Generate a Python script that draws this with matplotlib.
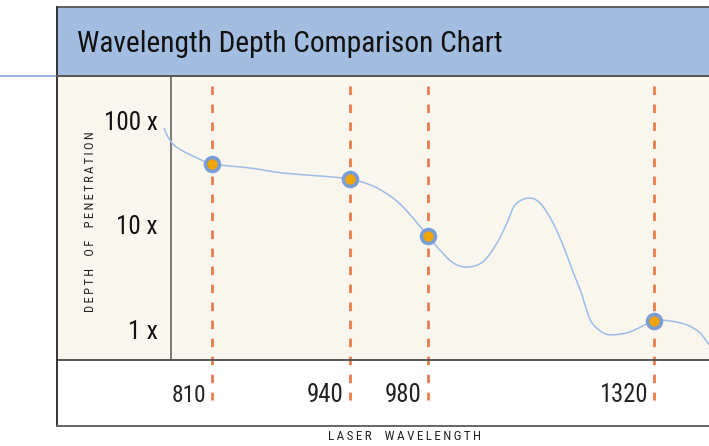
import matplotlib
matplotlib.use("Agg")
import numpy as np
import matplotlib.pyplot as plt
import matplotlib.transforms as mtransforms
from matplotlib import font_manager
from matplotlib.patches import Rectangle, PathPatch
from matplotlib.lines import Line2D
from matplotlib.path import Path

# pick a narrow face if one is installed
names = sorted({f.name for f in font_manager.fontManager.ttflist})
narrow = None
for cand in ['Liberation Sans Narrow', 'Roboto Condensed', 'Noto Sans Condensed',
             'Open Sans Condensed', 'DejaVu Sans Condensed']:
    if cand in names:
        narrow = cand
        break
if narrow is None:
    for n in names:
        if ('Condensed' in n or 'Narrow' in n) and 'Extra' not in n and 'Semi' not in n:
            narrow = n
            break
stretch = 'normal'
if narrow is None:
    narrow = 'DejaVu Sans'
    stretch = 'condensed'
plt.rcParams['font.family'] = [narrow, 'DejaVu Sans']

# curve: position along the axis (arbitrary units) and depth of penetration
curve_pos = [107, 111, 117, 126, 140, 156, 193, 226, 263, 293, 308, 320, 333, 343,
             356, 371, 383, 396, 410, 426, 440, 450, 458, 471, 483, 496, 508, 516,
             524, 529, 535, 546, 556, 573, 597, 613, 630, 643, 652]
curve_depth = [85.7, 70.3, 58.9, 51.6, 44.3, 38.8, 35.5, 31.8, 29.8, 27.9, 25.5, 22.9,
               19.2, 16.1, 11.8, 7.9, 5.8, 4.4, 4.0, 4.5, 6.8, 10.6, 15.7, 18.3, 16.4,
               10.6, 5.8, 3.6, 2.31, 1.62, 1.17, 0.94, 0.90, 0.96, 1.22, 1.22, 1.12,
               0.94, 0.72]

# highlighted wavelengths
wavelengths = ['810', '940', '980', '1320']
wl_pos = [155, 293, 371, 597]
wl_depth = [38.8, 27.9, 7.9, 1.22]

depth_ticks = [1, 10, 100]
depth_labels = ['1 x', '10 x', '100 x']

W, H = 709, 446
fig = plt.figure(figsize=(W / 100, H / 100), dpi=100)
fig.patch.set_facecolor('white')
renderer = fig.canvas.get_renderer()

def fx(px):
    return px / W

def fy(py):
    return 1 - py / H

def fit(t, target, vertical=False):
    # size a text to the extent it has in the reference
    bb = t.get_window_extent(renderer)
    w = bb.height if vertical else bb.width
    t.set_fontsize(t.get_fontsize() * target / w)

frame = '#555555'

# header band
fig.add_artist(Rectangle((fx(57), fy(76)), fx(709) - fx(57), fy(7) - fy(76),
                         transform=fig.transFigure, facecolor='#a3bde0', edgecolor='none'))
fig.add_artist(Line2D([fx(57), 1], [fy(7), fy(7)], transform=fig.transFigure, color=frame, lw=1.3))
fig.add_artist(Line2D([0, fx(57)], [fy(76), fy(76)], transform=fig.transFigure, color='#8aa6d8', lw=1.2))
title = fig.text(fx(77), fy(52), 'Wavelength Depth Comparison Chart', fontsize=23,
                 fontstretch=stretch, ha='left', va='baseline', color='#111111')
fit(title, 428)

# main plot area
ax = fig.add_axes([fx(57), fy(360), fx(709) - fx(57), fy(76) - fy(360)])
ax.set_facecolor('#f9f6ee')
ax.set_yscale('log')
ax.set_xlim(0, 652)
ax.set_ylim(10 ** -0.287, 10 ** 2.431)
ax.set_xticks([])
ax.set_yticks([])
ax.minorticks_off()
for s in ['top', 'right', 'left']:
    ax.spines[s].set_visible(False)
ax.spines['bottom'].set_color(frame)
ax.spines['bottom'].set_linewidth(1.4)
ax.axvline(114, color='#6f6f6f', lw=1.3)

# outer frame lines
fig.add_artist(Line2D([fx(57), fx(57)], [fy(7), fy(426)], transform=fig.transFigure, color='#333333', lw=1.4))
fig.add_artist(Line2D([fx(57), 1], [fy(76), fy(76)], transform=fig.transFigure, color=frame, lw=1.4))
fig.add_artist(Line2D([fx(57), 1], [fy(426), fy(426)], transform=fig.transFigure, color='#666666', lw=1.4))

blend = mtransforms.blended_transform_factory(ax.transData, ax.transAxes)
for p in wl_pos:
    ax.plot([p, p], [0.965, -0.141], transform=blend, color='#e8794a', lw=1.95,
            dashes=(3.15, 3.5), clip_on=False, zorder=2)

# smooth curve: Catmull-Rom through the read points, in log-depth space
px_ = np.array(curve_pos, float)
py_ = np.log10(curve_depth)
verts = [(px_[0], py_[0])]
codes = [Path.MOVETO]
n = len(px_)
for i in range(n - 1):
    p0 = np.array([px_[max(i - 1, 0)], py_[max(i - 1, 0)]])
    p1 = np.array([px_[i], py_[i]])
    p2 = np.array([px_[i + 1], py_[i + 1]])
    p3 = np.array([px_[min(i + 2, n - 1)], py_[min(i + 2, n - 1)]])
    c1 = p1 + (p2 - p0) / 6
    c2 = p2 - (p3 - p1) / 6
    verts += [tuple(c1), tuple(c2), tuple(p2)]
    codes += [Path.CURVE4] * 3
verts = [(x, 10 ** y) for x, y in verts]
ax.add_patch(PathPatch(Path(verts, codes), facecolor='none', edgecolor='#9dbde6',
                       lw=1.1, zorder=3))
ax.plot(wl_pos, wl_depth, 'o', ms=10, mfc='#f0a500', mec='#7b9cd4', mew=2.6, zorder=4)

# depth labels (reference face is narrower, so allow a little extra width)
ylab_tr = mtransforms.offset_copy(ax.transData, fig=fig, x=0, y=-8.5, units='dots')
target_w = {'1 x': 26, '10 x': 36, '100 x': 47}
for v, lab in zip(depth_ticks, depth_labels):
    t = ax.text(101, v, lab, transform=ylab_tr, ha='right', va='baseline', fontsize=17.5,
                fontstretch=stretch, color='#111111', clip_on=False)
    fit(t, target_w[lab] * 1.15)

# wavelength labels
wl_tr = mtransforms.offset_copy(blend, fig=fig, x=-6, y=0, units='dots')
target_wl = [30, 32, 32, 42]
for p, lab, tw in zip(wl_pos, wavelengths, target_wl):
    t = ax.text(p, -0.148, lab, transform=wl_tr, ha='right', va='baseline', fontsize=17.5,
                fontstretch=stretch, color='#222222', clip_on=False)
    fit(t, tw * 1.15)

def spaced(s):
    return '\u2009'.join(list(s)).replace('\u2009 \u2009', '\u2009\u2009 \u2009\u2009')

yl = fig.text(fx(91), fy(222), spaced('DEPTH OF PENETRATION'), rotation=90, fontsize=9.5,
              fontstretch=stretch, ha='center', va='center', color='#222222')
xl = fig.text(fx(404), fy(437), spaced('LASER WAVELENGTH'), fontsize=9.5,
              fontstretch=stretch, ha='center', va='center', color='#222222')
fit(xl, 153)
fit(yl, 181, vertical=True)

fig.savefig('out.png', dpi=100)
